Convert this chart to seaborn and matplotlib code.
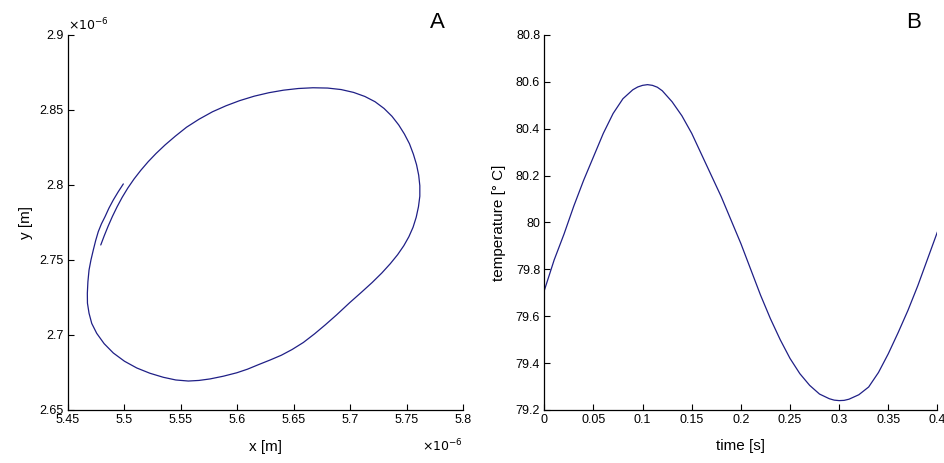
import numpy as np
import pandas as pd
import matplotlib
matplotlib.use("Agg")
import matplotlib.pyplot as plt
import seaborn as sns

# panel A: trajectory, both coordinates in units of 1e-6 m
orbit_x = [5.479, 5.482, 5.4855, 5.4893, 5.4935, 5.498, 5.503, 5.5085, 5.5145, 5.521,
           5.528, 5.536, 5.545, 5.555, 5.566, 5.578, 5.590, 5.602, 5.615, 5.628,
           5.641, 5.654, 5.667, 5.680, 5.692, 5.703, 5.713, 5.722, 5.730, 5.737,
           5.743, 5.748, 5.7525, 5.756, 5.7588, 5.7607, 5.7617, 5.7617, 5.7605, 5.7585,
           5.7557, 5.752, 5.7475, 5.742, 5.7355, 5.728, 5.7195, 5.710, 5.6995,
           5.6881, 5.678, 5.6685, 5.6585, 5.6485, 5.639, 5.629, 5.619, 5.609, 5.5995,
           5.5875, 5.5758, 5.566, 5.5566, 5.5455, 5.5344, 5.5225, 5.5109, 5.500, 5.4901,
           5.482, 5.4754, 5.471, 5.4686, 5.4672, 5.4671, 5.4676, 5.4686, 5.4703, 5.4724,
           5.4745, 5.4768, 5.4796, 5.4828, 5.4862, 5.4901, 5.4945, 5.499]
orbit_y = [2.760, 2.766, 2.7725, 2.779, 2.7855, 2.7918, 2.798, 2.804, 2.8098, 2.8155,
           2.821, 2.8267, 2.8325, 2.8385, 2.8438, 2.8488, 2.8528, 2.8562, 2.8592, 2.8615,
           2.8632, 2.8643, 2.8648, 2.8646, 2.8636, 2.8617, 2.859, 2.8555, 2.851, 2.8458,
           2.840, 2.834, 2.8275, 2.8205, 2.8135, 2.8065, 2.7995, 2.7925, 2.7855, 2.7785,
           2.7718, 2.7655, 2.7595, 2.7535, 2.7475, 2.7413, 2.735, 2.7285, 2.7215,
           2.7135, 2.7068, 2.7008, 2.695, 2.6903, 2.6865, 2.6833, 2.6803, 2.6772, 2.6748,
           2.6725, 2.6707, 2.6697, 2.6693, 2.670, 2.6718, 2.6745, 2.678, 2.6825, 2.688,
           2.6942, 2.7011, 2.7077, 2.7145, 2.7212, 2.7278, 2.7355, 2.7433, 2.750, 2.7567,
           2.763, 2.7689, 2.7741, 2.7789, 2.7845, 2.790, 2.7955, 2.8007]

# panel B: temperature over time
time_s = [0.00, 0.01, 0.02, 0.03, 0.04, 0.05, 0.06, 0.07, 0.08, 0.09, 0.095, 0.10,
          0.105, 0.11, 0.115, 0.12, 0.13, 0.14, 0.15, 0.16, 0.17, 0.18, 0.19, 0.20,
          0.21, 0.22, 0.23, 0.24, 0.25, 0.26, 0.27, 0.28, 0.29, 0.295, 0.30, 0.305,
          0.31, 0.32, 0.33, 0.34, 0.35, 0.36, 0.37, 0.38, 0.39, 0.40]
temp_c = [79.71, 79.84, 79.95, 80.07, 80.18, 80.28, 80.38, 80.465, 80.528, 80.566,
          80.578, 80.585, 80.588, 80.585, 80.577, 80.562, 80.515, 80.455, 80.38, 80.29,
          80.20, 80.11, 80.01, 79.91, 79.80, 79.69, 79.59, 79.50, 79.42, 79.355,
          79.305, 79.268, 79.248, 79.242, 79.24, 79.241, 79.246, 79.265, 79.298, 79.36,
          79.44, 79.53, 79.625, 79.73, 79.845, 79.96]

xa_ticks = [5.45, 5.5, 5.55, 5.6, 5.65, 5.7, 5.75, 5.8]
ya_ticks = [2.65, 2.7, 2.75, 2.8, 2.85, 2.9]
xb_ticks = [0, 0.05, 0.1, 0.15, 0.2, 0.25, 0.3, 0.35, 0.4]
yb_ticks = [79.2, 79.4, 79.6, 79.8, 80, 80.2, 80.4, 80.6, 80.8]

line_color = "#1f1f86"

sns.set_style("ticks")
plt.rcParams["font.family"] = ["Liberation Sans", "DejaVu Sans"]
plt.rcParams["xtick.direction"] = "in"
plt.rcParams["ytick.direction"] = "in"
plt.rcParams["text.color"] = "black"
plt.rcParams["axes.labelcolor"] = "black"

fig = plt.figure(figsize=(9.45, 4.63), dpi=100)
ax_a = fig.add_axes([0.072, 0.1145, 0.418, 0.81])
ax_b = fig.add_axes([0.576, 0.1145, 0.416, 0.81])

df_a = pd.DataFrame({"x": orbit_x, "y": orbit_y})
sns.lineplot(data=df_a, x="x", y="y", sort=False, estimator=None,
             color=line_color, linewidth=0.9, ax=ax_a)
df_b = pd.DataFrame({"t": time_s, "T": temp_c})
sns.lineplot(data=df_b, x="t", y="T", sort=False, estimator=None,
             color=line_color, linewidth=0.9, ax=ax_b)

for ax, xt, yt in [(ax_a, xa_ticks, ya_ticks), (ax_b, xb_ticks, yb_ticks)]:
    ax.set_xlim(xt[0], xt[-1])
    ax.set_ylim(yt[0], yt[-1])
    ax.set_xticks(xt)
    ax.set_yticks(yt)
    ax.set_xticklabels([f"{v:g}" for v in xt])
    ax.set_yticklabels([f"{v:g}" for v in yt])
    ax.tick_params(length=4, width=0.8, labelsize=9, pad=3, colors="black")
    for side in ["top", "right"]:
        ax.spines[side].set_visible(False)
    for side in ["left", "bottom"]:
        ax.spines[side].set_linewidth(0.9)
        ax.spines[side].set_color("black")

ax_a.set_xlabel("x [m]", fontsize=11, labelpad=10)
ax_a.set_ylabel("y [m]", fontsize=11, labelpad=5)
ax_b.set_xlabel("time [s]", fontsize=11, labelpad=9)
ax_b.set_ylabel("temperature [° C]", fontsize=11, labelpad=7)

# exponent notes like the original
ax_a.text(0.0, 1.005, r"$\times10^{-6}$", transform=ax_a.transAxes,
          fontsize=9, ha="left", va="bottom")
ax_a.text(1.0, -0.075, r"$\times10^{-6}$", transform=ax_a.transAxes,
          fontsize=9, ha="right", va="top")

fig.text(437 / 945, 1 - 23 / 463, "A", fontsize=16, ha="center", va="center")
fig.text(914 / 945, 1 - 23 / 463, "B", fontsize=16, ha="center", va="center")

plt.savefig("out.png", dpi=100)
plt.close("all")
